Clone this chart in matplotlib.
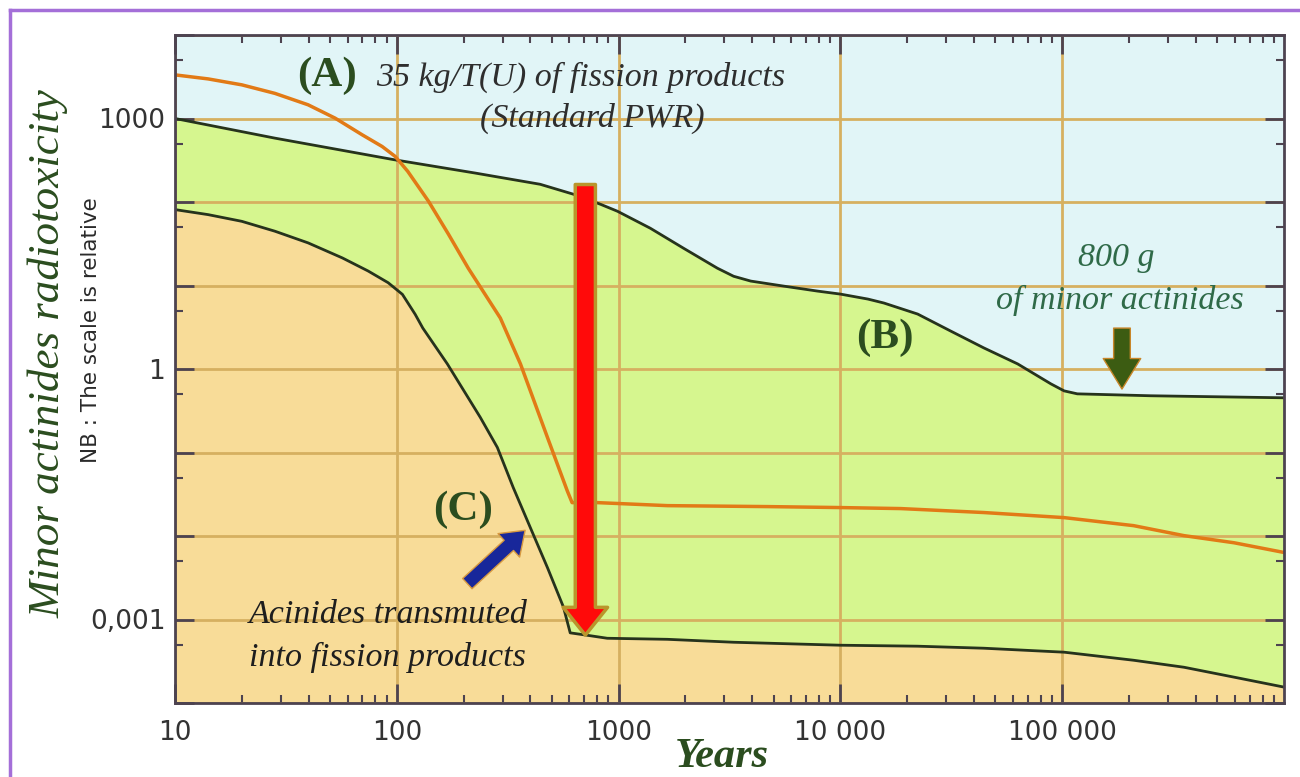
import matplotlib
matplotlib.use("Agg")
import matplotlib.pyplot as plt
from matplotlib.lines import Line2D
from matplotlib.ticker import FixedLocator, FuncFormatter, LogLocator, NullFormatter

# (A) fission products, 35 kg/T(U), standard PWR
years_a = [10, 14.1, 20.0, 28.2, 39.8, 52.7, 69.8, 85.9, 98.4, 112, 139, 171, 210,
           293, 361, 478, 587, 617, 802, 1660, 4690, 10000, 18700, 44300, 102000,
           210000, 354000, 595000, 1000000]
tox_a = [3330, 2980, 2530, 2000, 1460, 1010, 638, 462, 351, 233, 102, 41.1, 16.1,
         4.07, 1.15, 0.151, 0.0347, 0.0251, 0.0251, 0.0231, 0.0225, 0.0219, 0.0213,
         0.0191, 0.0166, 0.0133, 0.0101, 0.0083, 0.00635]

# (B) 800 g of minor actinides
years_b = [10, 28.2, 97.2, 226, 293, 443, 625, 828, 988, 1390, 1960, 2790, 3300, 3940,
           5540, 7890, 10000, 13300, 15700, 22300, 31400, 44300, 63000, 88900, 102000,
           117000, 251000, 1000000]
tox_b = [1000, 582, 321, 222, 197, 163, 124, 94, 77.5, 48.5, 28.0, 16.1, 12.9, 11.3,
         9.84, 8.57, 7.89, 6.88, 6.17, 4.55, 2.85, 1.79, 1.15, 0.664, 0.547, 0.504,
         0.478, 0.452]

# (C) actinides transmuted into fission products
years_c = [10, 14.1, 20.0, 28.2, 39.8, 56.8, 74.3, 91.4, 106, 121, 131, 169, 238, 284,
           335, 400, 478, 564, 605, 723, 889, 1660, 3300, 10000, 22300, 44300, 102000,
           210000, 354000, 595000, 1000000]
tox_c = [81.1, 70.6, 58.7, 44.7, 32.4, 21.4, 14.9, 10.8, 7.83, 4.52, 3.09, 1.15, 0.263,
         0.115, 0.038, 0.0126, 0.00417, 0.00141, 0.000692, 0.000647, 0.000596,
         0.000579, 0.000534, 0.000492, 0.000479, 0.000453, 0.000406, 0.000325,
         0.000268, 0.000204, 0.000155]

x_ticks = [10, 100, 1000, 10000, 100000]
x_labels = ["10", "100", "1000", "10 000", "100 000"]
y_labels = {1000: "1000", 1: "1", 0.001: "0,001"}

SKY = "#e1f5f7"
GREEN = "#d6f68f"
TAN = "#f8dc98"
GRID = "#d6b060"
DARK = "#26331c"
ORANGE = "#e27a16"
TXT_GREEN = "#2b4d1f"

fig = plt.figure(figsize=(13, 7.77), dpi=100)
ax = fig.add_axes([175 / 1300, 1 - 703 / 777, (1284 - 175) / 1300, (703 - 35) / 777])
ax.set_facecolor(SKY)
ax.set_xscale("log")
ax.set_yscale("log")
ax.set_xlim(10, 1e6)
ax.set_ylim(1e-4, 1e4)

ax.fill_between(years_b, 1e-6, tox_b, color=GREEN, lw=0, zorder=1)
ax.fill_between(years_c, 1e-6, tox_c, color=TAN, lw=0, zorder=1.1)

ax.set_axisbelow(False)
ax.grid(True, which="major", color=GRID, lw=2, zorder=1.5)

ax.plot(years_b, tox_b, color=DARK, lw=2, zorder=3)
ax.plot(years_c, tox_c, color=DARK, lw=2, zorder=3)
ax.plot(years_a, tox_a, color=ORANGE, lw=2.5, zorder=3)

# axes ticks
ax.xaxis.set_major_locator(FixedLocator(x_ticks))
ax.xaxis.set_major_formatter(FuncFormatter(
    lambda v, p: x_labels[x_ticks.index(v)] if v in x_ticks else ""))
ax.xaxis.set_minor_locator(LogLocator(base=10, subs=range(2, 10)))
ax.xaxis.set_minor_formatter(NullFormatter())
ax.yaxis.set_major_locator(FixedLocator([10.0 ** k for k in range(-4, 5)]))
ax.yaxis.set_major_formatter(FuncFormatter(
    lambda v, p: next((s for k, s in y_labels.items() if abs(v / k - 1) < 1e-6), "")))
ax.yaxis.set_minor_locator(LogLocator(base=10, subs=(5,)))
ax.yaxis.set_minor_formatter(NullFormatter())

ax.tick_params(which="both", direction="in", top=True, right=True, color="#4d4350")
ax.tick_params(which="major", length=14, width=2)
ax.tick_params(which="minor", length=6, width=1.5)
ax.tick_params(axis="x", which="major", labelsize=19, labelcolor="#333333", pad=12)
ax.tick_params(axis="y", which="major", labelsize=19, labelcolor="#333333", pad=7)
for sp in ax.spines.values():
    sp.set_color("#4d4350")
    sp.set_linewidth(2)
    sp.set_zorder(5)

serif = "Liberation Serif"

# arrows
ax.annotate("", xy=(708, 0.00065), xytext=(708, 162),
            arrowprops=dict(arrowstyle="simple,head_width=3.2,head_length=2.0,tail_width=1.45",
                            mutation_scale=10, fc="#ff0a0a", ec="#b9952b", lw=2.5,
                            shrinkA=0, shrinkB=0), zorder=6)
ax.annotate("", xy=(379, 0.0117), xytext=(208, 0.00269),
            arrowprops=dict(arrowstyle="simple,head_width=2.3,head_length=1.6,tail_width=1.0",
                            mutation_scale=10, fc="#18279a", ec="#d89a40", lw=1,
                            shrinkA=0, shrinkB=0), zorder=6)
ax.annotate("", xy=(186000, 0.575), xytext=(186000, 3.09),
            arrowprops=dict(arrowstyle="simple,head_width=2.7,head_length=2.2,tail_width=1.2",
                            mutation_scale=10, fc="#3c5c12", ec="#c8862a", lw=1,
                            shrinkA=0, shrinkB=0), zorder=6)

# labels
def px(x, y):
    return (x / 1300, 1 - y / 777)

fig.text(*px(327, 76), "(A)", family=serif, weight="bold", size=31, color=TXT_GREEN,
         ha="center", va="center")
fig.text(*px(581, 77), "35 kg/T(U) of fission products", family=serif, style="italic",
         size=24.5, color="#2e2e2e", ha="center", va="center")
fig.text(*px(592, 118), "(Standard PWR)", family=serif, style="italic",
         size=24.5, color="#2e2e2e", ha="center", va="center")
fig.text(*px(885, 338), "(B)", family=serif, weight="bold", size=31, color=TXT_GREEN,
         ha="center", va="center")
fig.text(*px(463, 510), "(C)", family=serif, weight="bold", size=31, color=TXT_GREEN,
         ha="center", va="center")
fig.text(*px(1116, 258), "800 g", family=serif, style="italic", size=24.5,
         color="#2f6a48", ha="center", va="center")
fig.text(*px(1120, 300), "of minor actinides", family=serif, style="italic", size=24.5,
         color="#2f6a48", ha="center", va="center")
fig.text(*px(249, 615), "Acinides transmuted", family=serif, style="italic", size=24.5,
         color="#1e1e1e", ha="left", va="center")
fig.text(*px(249, 657), "into fission products", family=serif, style="italic", size=24.5,
         color="#1e1e1e", ha="left", va="center")

fig.text(*px(48, 354), "Minor actinides radiotoxicity", family=serif, style="italic",
         size=32.5, color=TXT_GREEN, rotation=90, ha="center", va="center")
fig.text(*px(91, 330), "NB : The scale is relative", family="DejaVu Sans", size=15.5,
         color="#2a2a2a", rotation=90, ha="center", va="center")
fig.text(*px(722, 757), "Years", family=serif, style="italic", weight="bold", size=30.5,
         color=TXT_GREEN, ha="center", va="center")

# purple frame
fig.add_artist(Line2D([10 / 1300, 1], [1 - 10 / 777] * 2, transform=fig.transFigure,
                      color="#a46fd8", lw=2.5))
fig.add_artist(Line2D([10 / 1300] * 2, [0, 1 - 10 / 777], transform=fig.transFigure,
                      color="#a46fd8", lw=2.5))

fig.savefig("out.png", dpi=100, facecolor="white")
